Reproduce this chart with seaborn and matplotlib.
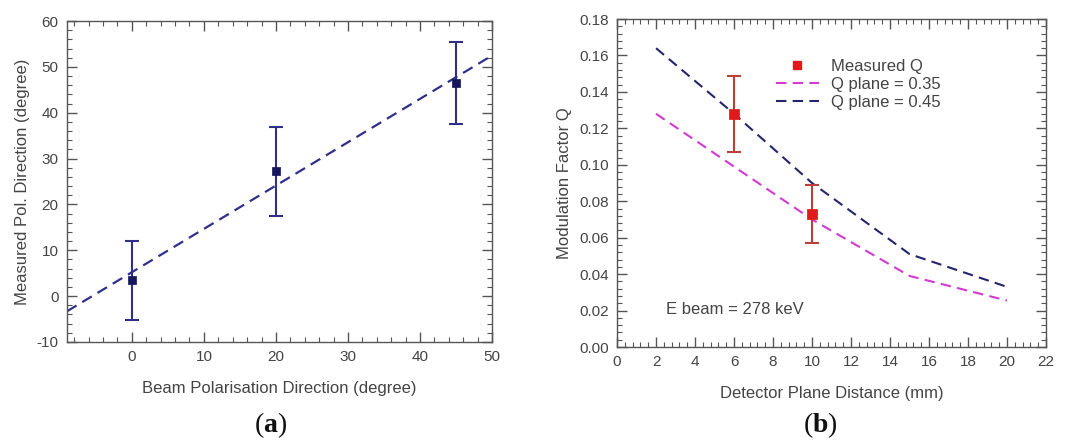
import matplotlib
matplotlib.use("Agg")
import matplotlib.pyplot as plt
import pandas as pd
import seaborn as sns
from matplotlib.ticker import MultipleLocator, FormatStrFormatter

# Panel (a): measured polarisation direction vs beam polarisation
beam_dir = [0, 20, 45]
measured_dir = [3.5, 27.2, 46.5]
measured_err = [8.6, 9.8, 9.0]
fit_x = [-9, 50]
fit_y = [-3.3, 52.5]

# Panel (b): modulation factor vs detector plane distance
dist = [2, 6, 10, 15, 20]
q_035 = [0.128, 0.099, 0.070, 0.039, 0.0255]
q_045 = [0.164, 0.128, 0.090, 0.051, 0.033]
meas_dist = [6, 10]
meas_q = [0.128, 0.073]
meas_err = [0.021, 0.016]

sns.set_style("white")
plt.rcParams["font.family"] = ["Liberation Sans", "DejaVu Sans"]
plt.rcParams["axes.unicode_minus"] = False
plt.rcParams["mathtext.fontset"] = "custom"
plt.rcParams["mathtext.bf"] = "Liberation Serif:bold"
plt.rcParams["mathtext.rm"] = "Liberation Serif"

txt = "#444444"
navy = "#30308a"
navy_dark = "#16165e"

fig = plt.figure(figsize=(10.72, 4.45), dpi=100)
ax1 = fig.add_axes([0.0625, 0.2315, 0.3965, 0.721])
ax2 = fig.add_axes([0.5756, 0.2202, 0.4002, 0.737])


def style_axes(ax):
    for s in ax.spines.values():
        s.set_color("#555555")
        s.set_linewidth(1.0)
    ax.tick_params(which="both", direction="in", top=True, right=True,
                   bottom=True, left=True, colors="#555555",
                   labelcolor=txt, labelsize=11, pad=6)
    ax.tick_params(which="major", length=7, width=1.0)
    ax.tick_params(which="minor", length=3.5, width=0.8)


# ---- panel (a)
df_fit = pd.DataFrame({"x": fit_x, "y": fit_y})
sns.lineplot(data=df_fit, x="x", y="y", ax=ax1, color=navy, lw=1.6,
             linestyle=(0, (5, 3)))
ax1.errorbar(beam_dir, measured_dir, yerr=measured_err, fmt="none",
             ecolor=navy, elinewidth=1.5, capsize=5, capthick=1.5)
sns.scatterplot(x=beam_dir, y=measured_dir, ax=ax1, marker="s", s=40,
                color=navy_dark, edgecolor=navy_dark, zorder=5)
ax1.set_xlim(-9, 50)
ax1.set_ylim(-10, 60)
ax1.xaxis.set_major_locator(MultipleLocator(10))
ax1.xaxis.set_minor_locator(MultipleLocator(2))
ax1.yaxis.set_major_locator(MultipleLocator(10))
ax1.yaxis.set_minor_locator(MultipleLocator(2))
ax1.set_xlabel("Beam Polarisation Direction (degree)", fontsize=12,
               color=txt, labelpad=12)
ax1.set_ylabel("Measured Pol. Direction (degree)", fontsize=12,
               color=txt, labelpad=5)
style_axes(ax1)

# ---- panel (b)
df_q = pd.DataFrame({
    "dist": dist * 2,
    "Q": q_035 + q_045,
    "series": ["Q plane = 0.35"] * len(dist) + ["Q plane = 0.45"] * len(dist),
})
sns.lineplot(data=df_q, x="dist", y="Q", hue="series", ax=ax2,
             palette={"Q plane = 0.35": "#d23ad2", "Q plane = 0.45": "#25256e"},
             lw=1.5, legend=False)
for ln in ax2.get_lines():
    ln.set_linestyle((0, (5, 3)))
ax2.errorbar(meas_dist, meas_q, yerr=meas_err, fmt="none",
             ecolor="#b8403a", elinewidth=1.5, capsize=5, capthick=1.5)
sns.scatterplot(x=meas_dist, y=meas_q, ax=ax2, marker="s", s=45,
                color="#e01a1a", edgecolor="#e01a1a", zorder=5)

h_meas = plt.Line2D([], [], marker="s", color="#e01a1a", ls="none", ms=6)
h_35 = plt.Line2D([], [], color="#d23ad2", lw=1.5, ls=(0, (5, 3)))
h_45 = plt.Line2D([], [], color="#25256e", lw=1.5, ls=(0, (5, 3)))
ax2.legend([h_meas, h_35, h_45],
           ["Measured Q", "Q plane = 0.35", "Q plane = 0.45"],
           loc="upper left", bbox_to_anchor=(0.335, 0.925), frameon=False,
           fontsize=12, handlelength=2.6, handletextpad=0.7,
           labelspacing=0.2, labelcolor=txt)
ax2.text(2.5, 0.0205, "E beam = 278 keV", fontsize=12, color=txt,
         va="center")

ax2.set_xlim(0, 22)
ax2.set_ylim(0, 0.18)
ax2.xaxis.set_major_locator(MultipleLocator(2))
ax2.xaxis.set_minor_locator(MultipleLocator(0.4))
ax2.yaxis.set_major_locator(MultipleLocator(0.02))
ax2.yaxis.set_minor_locator(MultipleLocator(0.004))
ax2.yaxis.set_major_formatter(FormatStrFormatter("%.2f"))
ax2.set_xlabel("Detector Plane Distance (mm)", fontsize=12, color=txt,
               labelpad=12)
ax2.set_ylabel("Modulation Factor Q", fontsize=12, color=txt, labelpad=5)
style_axes(ax2)

# panel letters
fig.text(0.252, 0.03, r"($\mathbf{a}$)", fontsize=20, ha="center",
         family="Liberation Serif", color="#111111")
fig.text(0.765, 0.03, r"($\mathbf{b}$)", fontsize=20, ha="center",
         family="Liberation Serif", color="#111111")

fig.savefig("out.png", dpi=100)
